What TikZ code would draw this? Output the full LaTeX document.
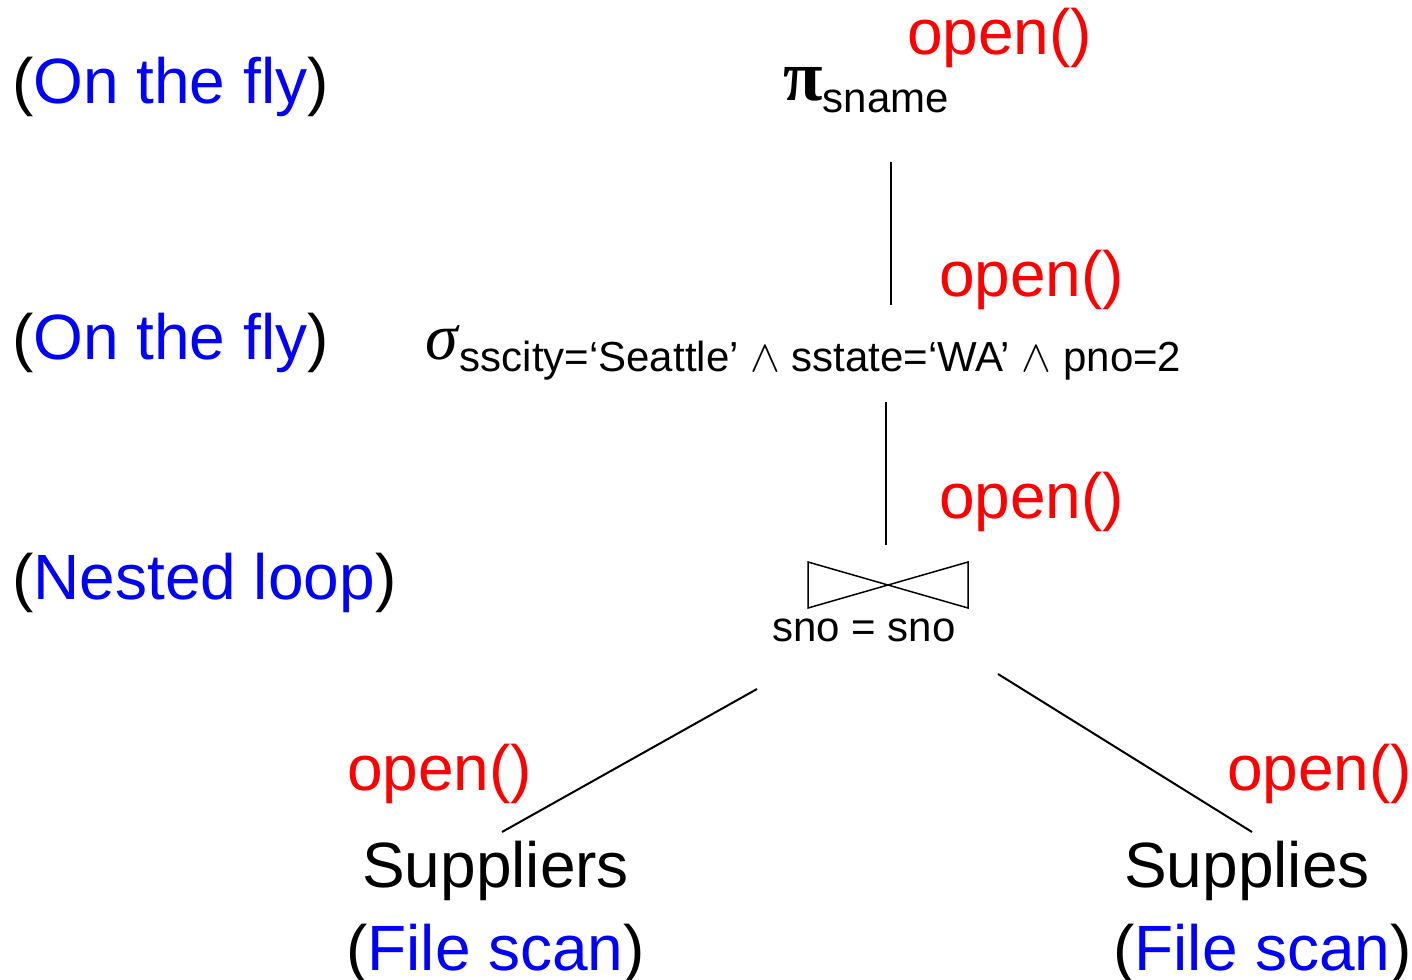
\documentclass[tikz,border=0pt]{standalone}
\usepackage{fontspec}
\usepackage{graphicx}
\setmainfont{Liberation Sans}
\newfontfamily\serifgr{Liberation Serif}
\definecolor{opred}{RGB}{255,0,0}
\definecolor{anblue}{RGB}{0,0,255}
\newcommand{\bigwedgesym}{\scalebox{1.8}{$\wedge$}}
\begin{document}
\begin{tikzpicture}[x=1pt,y=-1pt,
  big/.style={font=\fontsize{64}{70}\selectfont, anchor=base west, inner sep=0pt},
  mid/.style={font=\fontsize{42}{48}\selectfont, anchor=base west, inner sep=0pt},
  openlbl/.style={big, text=opred},
  edge/.style={line width=2pt},
  bowtie/.style={line width=1.5pt, line join=miter}]
\useasboundingbox (0,0) rectangle (1412,979);
% annotations
\node[big] (f1) at (12,104) {(\textcolor{anblue}{On the fly})};
\node[big] (f2) at (12,359) {(\textcolor{anblue}{On the fly})};
\node[big] (f3) at (12,599) {(\textcolor{anblue}{Nested loop})};
% operators
\node[big] (proj) at (783,101) {{\serifgr\bfseries\fontsize{72}{76}\selectfont π}\raisebox{-12pt}{\fontsize{42}{48}\selectfont sname}};
\node[big] (sel) at (425,359) {{\serifgr\itshape\fontsize{66}{70}\selectfont σ}\raisebox{-12pt}{\fontsize{42}{48}\selectfont\kern2pt sscity=‘Seattle’ \bigwedgesym{} sstate=‘WA’ \bigwedgesym{} pno=2}};
\node[mid] (cond) at (772,641) {sno = sno};
\node[big] (supl) at (362,887) {Suppliers};
\node[big] (sups) at (1124,887) {Supplies};
\node[big] (fs1) at (346,970) {(\textcolor{anblue}{File scan})};
\node[big] (fs2) at (1113,970) {(\textcolor{anblue}{File scan})};
% open() labels
\node[openlbl] (o1) at (907,55) {open()};
\node[openlbl] (o2) at (939,296) {open()};
\node[openlbl] (o3) at (939,518) {open()};
\node[openlbl] (o4) at (347,790) {open()};
\node[openlbl] (o5) at (1227,790) {open()};
% join symbol
\coordinate (j1) at (808,562);
\coordinate (j2) at (808,608);
\coordinate (j3) at (968,562);
\coordinate (j4) at (968,608);
\draw[bowtie] (j1) -- (j2) -- (j3) -- (j4) -- cycle;
% connectors
\coordinate (a1) at (891,162); \coordinate (a2) at (891,305);
\coordinate (b1) at (886,402); \coordinate (b2) at (886,545);
\coordinate (c1) at (757,689); \coordinate (c2) at (502,832);
\coordinate (d1) at (998,674); \coordinate (d2) at (1252,832);
\draw[edge] (a1) -- (a2);
\draw[edge] (b1) -- (b2);
\draw[edge] (c1) -- (c2);
\draw[edge] (d1) -- (d2);
\end{tikzpicture}
\end{document}
